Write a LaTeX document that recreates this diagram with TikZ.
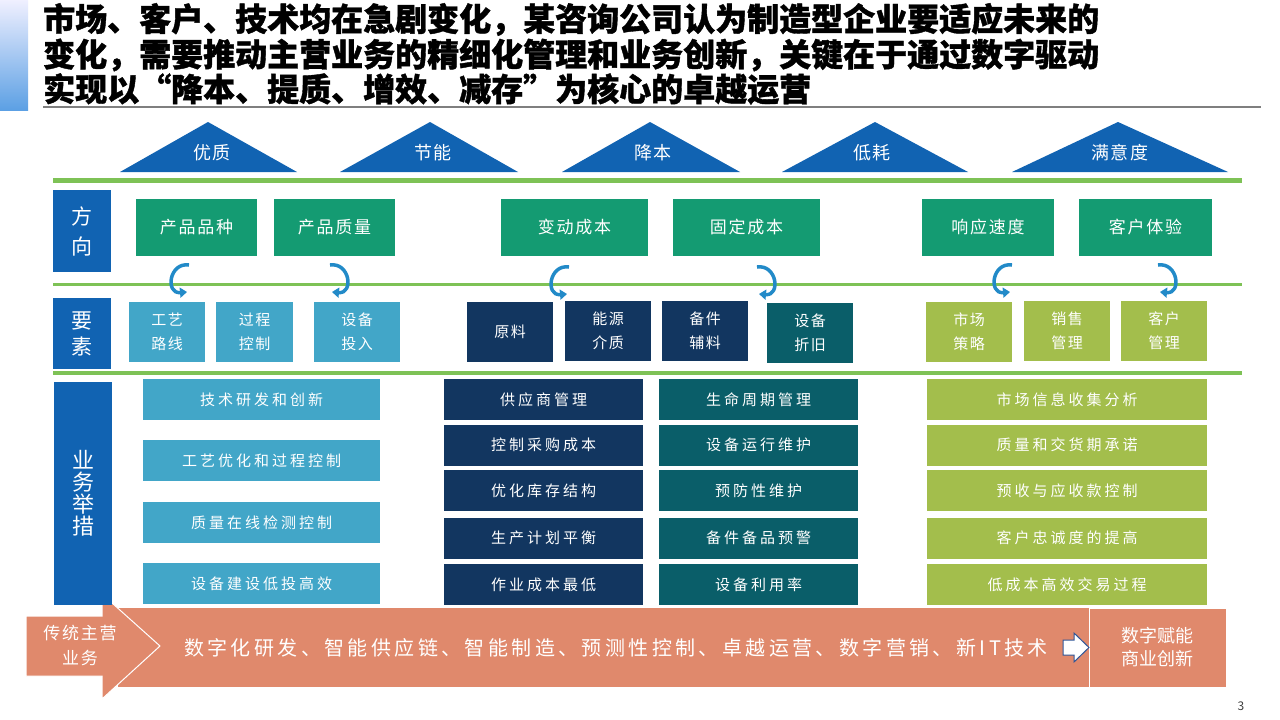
\documentclass[tikz,border=0pt]{standalone}
\usepackage{fontspec}
\setmainfont{Noto Sans CJK SC}
\newfontfamily\titlefont{Noto Sans CJK SC}[BoldFeatures={FakeBold=1.2}]
\newfontfamily\cjkA{Noto Sans CJK SC}[LetterSpace=10]
\newfontfamily\cjkB{Noto Sans CJK SC}[LetterSpace=20]
\newfontfamily\cjkC{Noto Sans CJK SC}[LetterSpace=17]
\usetikzlibrary{arrows.meta}
\definecolor{tblue}{RGB}{17,99,178}
\definecolor{lgreen}{RGB}{126,194,86}
\definecolor{dgreen}{RGB}{20,155,114}
\definecolor{lblue}{RGB}{66,166,200}
\definecolor{navy}{RGB}{18,54,96}
\definecolor{tealx}{RGB}{10,94,105}
\definecolor{olivex}{RGB}{163,190,76}
\definecolor{salmon}{RGB}{224,137,108}
\definecolor{arrblue}{RGB}{34,138,200}
\definecolor{grayline}{RGB}{127,127,127}
\definecolor{outblue}{RGB}{47,85,151}
\tikzset{
  bx/.style={inner sep=0pt, text=white, align=center},
  sidelab/.style={bx, fill=tblue, minimum width=58pt},
  dirbox/.style={bx, fill=dgreen, minimum height=57pt, font=\cjkA\fontsize{17}{20}\selectfont},
  elem/.style={bx, minimum width=86pt, minimum height=60pt, font=\cjkA\fontsize{15}{24}\selectfont},
  meas/.style={bx, minimum height=41pt, font=\cjkB\fontsize{15}{18}\selectfont},
  trilab/.style={inner sep=0pt, text=white, font=\cjkA\fontsize{18}{20}\selectfont},
  titleline/.style={anchor=west, inner sep=0pt, font=\titlefont\bfseries\fontsize{32}{35}\selectfont},
  curv/.style={arrblue, line width=3.5pt, -{Triangle[length=7pt,width=10pt]}},
  sepline/.style={lgreen}
}
\begin{document}
\begin{tikzpicture}[x=1pt,y=-1pt]
\useasboundingbox (0,0) rectangle (1280,720);
\fill[white] (0,0) rectangle (1280,720);
% title bar
\shade[top color=blue!6, bottom color={rgb,255:red,92;green,160;blue,228}] (0,0) rectangle (28,110);
\node[titleline] (t1) at (43,19.5) {市场、客户、技术均在急剧变化，某咨询公司认为制造型企业要适应未来的};
\node[titleline] (t2) at (43,55) {变化，需要推动主营业务的精细化管理和业务创新，关键在于通过数字驱动};
\node[titleline] (t3) at (43,89) {实现以“降本、提质、增效、减存”为核心的卓越运营};
\draw[grayline, line width=2pt] (43,107) -- (1261,107);
% triangles
\fill[tblue] (120,172) -- (208,122) -- (297,172) -- cycle;
\fill[tblue] (340,172) -- (430,122) -- (518,172) -- cycle;
\fill[tblue] (562,172) -- (650,122) -- (740,172) -- cycle;
\fill[tblue] (782,172) -- (875,122) -- (968,172) -- cycle;
\fill[tblue] (1012,172) -- (1118,122) -- (1228,172) -- cycle;
\node[trilab] (g1) at (212,153) {优质};
\node[trilab] (g2) at (433,153) {节能};
\node[trilab] (g3) at (653,153) {降本};
\node[trilab] (g4) at (872,153) {低耗};
\node[trilab] (g5) at (1120,153) {满意度};
% separator lines
\draw[sepline, line width=5pt] (53,180) -- (1242,180);
\draw[sepline, line width=3pt] (53,284) -- (1242,284);
\draw[sepline, line width=4pt] (53,373) -- (1242,373);
% side labels
\node[sidelab, minimum height=82pt, font=\fontsize{21}{30}\selectfont] (s1) at (82,231) {方\\向};
\node[sidelab, minimum height=71pt, font=\fontsize{21}{26}\selectfont] (s2) at (82,333.5) {要\\素};
% direction boxes
\node[dirbox, minimum width=121pt] (d1) at (196.5,227.5) {产品品种};
\node[dirbox, minimum width=121pt] (d2) at (334.5,227.5) {产品质量};
\node[dirbox, minimum width=147pt] (d3) at (574.5,227.5) {变动成本};
\node[dirbox, minimum width=147pt] (d4) at (746.5,227.5) {固定成本};
\node[dirbox, minimum width=132pt] (d5) at (988,227.5) {响应速度};
\node[dirbox, minimum width=133pt] (d6) at (1145.5,227.5) {客户体验};
% curved arrows
\coordinate (a1s) at (189,265); \coordinate (a1e) at (187,292);
\coordinate (a2s) at (330,265); \coordinate (a2e) at (332,292);
\coordinate (a3s) at (569,267); \coordinate (a3e) at (567,294);
\coordinate (a4s) at (757,267); \coordinate (a4e) at (759,294);
\coordinate (a5s) at (1012,265); \coordinate (a5e) at (1010,292);
\coordinate (a6s) at (1158,265); \coordinate (a6e) at (1160,292);
\draw[curv] (a1s) .. controls ([xshift=-20pt,yshift=3pt]a1s) and ([xshift=-22pt,yshift=-2pt]a1e) .. (a1e);
\draw[curv] (a2s) .. controls ([xshift=20pt,yshift=3pt]a2s) and ([xshift=22pt,yshift=-2pt]a2e) .. (a2e);
\draw[curv] (a3s) .. controls ([xshift=-20pt,yshift=3pt]a3s) and ([xshift=-22pt,yshift=-2pt]a3e) .. (a3e);
\draw[curv] (a4s) .. controls ([xshift=20pt,yshift=3pt]a4s) and ([xshift=22pt,yshift=-2pt]a4e) .. (a4e);
\draw[curv] (a5s) .. controls ([xshift=-20pt,yshift=3pt]a5s) and ([xshift=-22pt,yshift=-2pt]a5e) .. (a5e);
\draw[curv] (a6s) .. controls ([xshift=20pt,yshift=3pt]a6s) and ([xshift=22pt,yshift=-2pt]a6e) .. (a6e);
% element boxes
\node[elem, fill=lblue, minimum width=76pt] (e1) at (167,332) {工艺\\路线};
\node[elem, fill=lblue, minimum width=77pt] (e2) at (254.5,332) {过程\\控制};
\node[elem, fill=lblue] (e3) at (357,332) {设备\\投入};
\node[elem, fill=navy] (e4) at (510,332) {原料};
\node[elem, fill=navy] (e5) at (608,331) {能源\\介质};
\node[elem, fill=navy] (e6) at (705,331) {备件\\辅料};
\node[elem, fill=tealx] (e7) at (810,333) {设备\\折旧};
\node[elem, fill=olivex] (e8) at (969,332) {市场\\策略};
\node[elem, fill=olivex] (e9) at (1067,331) {销售\\管理};
\node[elem, fill=olivex] (e10) at (1164,331) {客户\\管理};
% measures
\node[meas, fill=lblue, minimum width=237pt] (m1) at (261.5,399.5) {技术研发和创新};
\node[meas, fill=lblue, minimum width=237pt] (m2) at (261.5,460.5) {工艺优化和过程控制};
\node[meas, fill=lblue, minimum width=237pt] (m3) at (261.5,522.5) {质量在线检测控制};
\node[meas, fill=lblue, minimum width=237pt] (m4) at (261.5,583.5) {设备建设低投高效};
\node[meas, fill=navy, minimum width=199pt] (n1) at (543.5,399.5) {供应商管理};
\node[meas, fill=navy, minimum width=199pt] (n2) at (543.5,445) {控制采购成本};
\node[meas, fill=navy, minimum width=199pt] (n3) at (543.5,490.5) {优化库存结构};
\node[meas, fill=navy, minimum width=199pt] (n4) at (543.5,538) {生产计划平衡};
\node[meas, fill=navy, minimum width=199pt] (n5) at (543.5,584.5) {作业成本最低};
\node[meas, fill=tealx, minimum width=199pt] (p1) at (758.5,399.5) {生命周期管理};
\node[meas, fill=tealx, minimum width=199pt] (p2) at (758.5,445) {设备运行维护};
\node[meas, fill=tealx, minimum width=199pt] (p3) at (758.5,490.5) {预防性维护};
\node[meas, fill=tealx, minimum width=199pt] (p4) at (758.5,538) {备件备品预警};
\node[meas, fill=tealx, minimum width=199pt] (p5) at (758.5,584.5) {设备利用率};
\node[meas, fill=olivex, minimum width=280pt] (q1) at (1067,399.5) {市场信息收集分析};
\node[meas, fill=olivex, minimum width=280pt] (q2) at (1067,445) {质量和交货期承诺};
\node[meas, fill=olivex, minimum width=280pt] (q3) at (1067,490.5) {预收与应收款控制};
\node[meas, fill=olivex, minimum width=280pt] (q4) at (1067,538) {客户忠诚度的提高};
\node[meas, fill=olivex, minimum width=280pt] (q5) at (1067,584.5) {低成本高效交易过程};
% bottom band
\fill[salmon] (118,608) rectangle (1089,687);
\node[bx, fill=salmon, draw=white, line width=1pt, minimum width=137pt, minimum height=79pt, font=\fontsize{18}{23}\selectfont] (dig) at (1157.5,647.5) {数字赋能\\商业创新};
\filldraw[fill=salmon, draw=white, line width=1pt] (26,616) -- (102,616) -- (102,594) -- (160,646) -- (102,699) -- (102,676) -- (26,676) -- cycle;
\node[bx, font=\cjkA\fontsize{17}{25}\selectfont] (trad) at (80,645) {传统主营\\业务};
\node[bx, font=\cjkC\fontsize{20}{24}\selectfont] (mtxt) at (616,648) {数字化研发、智能供应链、智能制造、预测性控制、卓越运营、数字营销、新IT技术};
\filldraw[fill=white, draw=outblue, line width=1pt] (1063,640) -- (1074,640) -- (1074,633) -- (1089,647.5) -- (1074,662) -- (1074,655) -- (1063,655) -- cycle;
% side label over band
\node[sidelab, minimum height=223pt, font=\fontsize{22}{22}\selectfont] (s3) at (83,493.5) {业\\务\\举\\措};
\node[inner sep=0pt, text=black!75, font=\fontsize{12}{14}\selectfont] (pg) at (1241,706) {3};
\end{tikzpicture}
\end{document}
